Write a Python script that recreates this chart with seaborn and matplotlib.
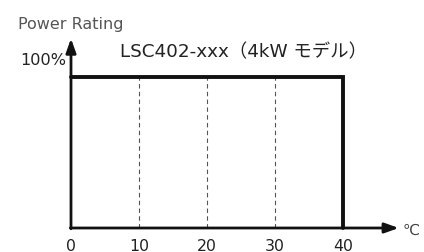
import matplotlib
matplotlib.use("Agg")
import matplotlib.pyplot as plt
import seaborn as sns
import pandas as pd

# data
temps = [0, 40, 40]
power = [100, 100, 0]
grid_x = [10, 20, 30]
tick_vals = [0, 10, 20, 30, 40]
tick_labels = ["0", "10", "20", "30", "40"]
title = "LSC402-xxx（4kW モデル）"
y_label = "Power Rating"
y_tick = "100%"
x_unit = "℃"

sns.set_theme(style="white")
plt.rcParams['font.family'] = ['DejaVu Sans', 'Noto Sans CJK JP']

fig = plt.figure(figsize=(4.24, 2.53), dpi=100)
ax = fig.add_axes([0, 0, 1, 1])
ax.set_xlim(-10.44, 51.91)
ax.set_ylim(-15.9, 151.7)
ax.axis('off')

# dashed guides
for gx in grid_x:
    ax.plot([gx, gx], [0, 100], color="#555555", lw=0.8, ls=(0, (4, 3)), zorder=1)

# rating curve
df = pd.DataFrame({"temp": temps, "power": power})
sns.lineplot(data=df, x="temp", y="power", sort=False, estimator=None,
             errorbar=None, color="#111111", lw=2.8, ax=ax, zorder=3)
ax.lines[-1].set_solid_joinstyle("miter")

# axes with arrows
arrow = dict(arrowstyle="-|>,head_length=0.7,head_width=0.25", color="#111111", lw=2,
             shrinkA=0, shrinkB=0)
ax.annotate("", xy=(48.2, 0), xytext=(-0.1, 0), arrowprops=arrow, zorder=4)
ax.annotate("", xy=(0, 125.5), xytext=(0, -0.5), arrowprops=arrow, zorder=4)

# texts
txt = "#222222"
for v, lab in zip(tick_vals, tick_labels):
    ax.text(v, -14.9, lab, ha="center", va="baseline", fontsize=11.3, color=txt)
ax.text(48.8, -4.0, x_unit, ha="left", va="baseline", fontsize=11, color="#444444")
ax.text(-0.74, 108.6, y_tick, ha="right", va="baseline", fontsize=11.6, color=txt)
ax.text(-7.8, 132.5, y_label, ha="left", va="baseline", fontsize=11.5, color="#555555")
ax.text(25.3, 113.9, title, ha="center", va="baseline", fontsize=13.2, color=txt)

ax.set_xlabel("")
ax.set_ylabel("")
if ax.get_legend():
    ax.get_legend().remove()

fig.savefig("out.png", dpi=100)
